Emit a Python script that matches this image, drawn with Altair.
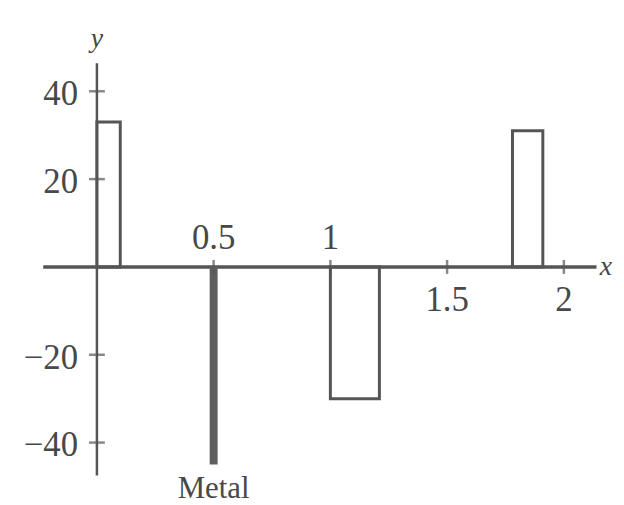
import altair as alt
import pandas as pd

# ---- data ----
bar_start = [0.0, 1.0, 1.78]
bar_end = [0.1, 1.21, 1.91]
bar_value = [33, -30, 31]

metal_x = [0.5]
metal_value = [-45]
metal_label = ["Metal"]

x_ticks = [0.5, 1.0, 1.5, 2.0]
x_tick_labels = ["0.5", "1", "1.5", "2"]
y_ticks = [40, 20, -20, -40]
y_tick_labels = ["40", "20", "\u221220", "\u221240"]

x_axis_span = [-0.23, 2.14]
y_axis_span = [-47.5, 46.4]

# ---- layout ----
W, H = 612, 496
X0, XS = 89.5, 235.0     # plot px of x=0, px per unit
Y0, YS = 259.0, 4.42     # plot px of y=0, px per unit
xdom = [-X0 / XS, (W - X0) / XS]
ydom = [(Y0 - H) / YS, Y0 / YS]
xs = alt.Scale(domain=xdom, nice=False, zero=False)
ys = alt.Scale(domain=ydom, nice=False, zero=False)

GRAY = "#555555"
TXT = "#484848"
FONT = "Liberation Serif"
FS = 35


def X(f):
    return alt.X(f, type="quantitative", scale=xs, axis=None)


def Y(f):
    return alt.Y(f, type="quantitative", scale=ys, axis=None)


bars = pd.DataFrame({"x0": bar_start, "x1": bar_end, "v": bar_value,
                     "base": [0] * len(bar_value)})
metal = pd.DataFrame({"x": metal_x, "v": metal_value, "label": metal_label,
                      "base": [0] * len(metal_x)})
xt = pd.DataFrame({"x": x_ticks, "label": x_tick_labels, "y": [0] * len(x_ticks)})
yt = pd.DataFrame({"y": y_ticks, "label": y_tick_labels, "x": [0] * len(y_ticks)})
xaxis = pd.DataFrame({"x": [x_axis_span[0]], "x2": [x_axis_span[1]], "y": [0]})
yaxis = pd.DataFrame({"y": [y_axis_span[0]], "y2": [y_axis_span[1]], "x": [0]})
names = pd.DataFrame({"x": [0.0, 2.18], "y": [52.0, 0.0], "label": ["y", "x"]})

x_line = alt.Chart(xaxis).mark_rule(color=GRAY, strokeWidth=3.5).encode(
    x=X("x"), x2="x2", y=Y("y"))
y_line = alt.Chart(yaxis).mark_rule(color=GRAY, strokeWidth=2.5).encode(
    x=X("x"), y=Y("y"), y2="y2")

x_tick_marks = alt.Chart(xt).mark_tick(
    orient="vertical", size=14, thickness=2.5, color=GRAY).encode(x=X("x"), y=Y("y"))
y_tick_marks = alt.Chart(yt).mark_tick(
    orient="horizontal", size=16, thickness=2.5, color=GRAY).encode(x=X("x"), y=Y("y"))

bar_rects = alt.Chart(bars).mark_rect(
    fillOpacity=0, stroke=GRAY, strokeWidth=3).encode(
    x=X("x0"), x2="x1", y=Y("base"), y2="v")

metal_bar = alt.Chart(metal).mark_rule(color="#5e5e5e", strokeWidth=8).encode(
    x=X("x"), y=Y("base"), y2="v")

metal_text = alt.Chart(metal).mark_text(
    font=FONT, fontSize=31, color=TXT, baseline="top", dy=10).encode(
    x=X("x"), y=Y("v"), text="label")

x_lab_above = alt.Chart(xt.iloc[:2]).mark_text(
    font=FONT, fontSize=FS, color=TXT, baseline="middle", dy=-29).encode(
    x=X("x"), y=Y("y"), text="label")
x_lab_below = alt.Chart(xt.iloc[2:]).mark_text(
    font=FONT, fontSize=FS, color=TXT, baseline="middle", dy=33).encode(
    x=X("x"), y=Y("y"), text="label")
y_lab = alt.Chart(yt).mark_text(
    font=FONT, fontSize=FS, color=TXT, baseline="middle", align="right",
    dx=-19, dy=3).encode(x=X("x"), y=Y("y"), text="label")

axis_names = alt.Chart(names).mark_text(
    font=FONT, fontSize=28, fontStyle="italic", color=TXT, baseline="middle",
    align="center").encode(x=X("x"), y=Y("y"), text="label")

chart = alt.layer(
    x_line, y_line, bar_rects, metal_bar, x_tick_marks, y_tick_marks,
    metal_text, x_lab_above, x_lab_below, y_lab, axis_names
).properties(
    width=W, height=H, padding=0,
    autosize=alt.AutoSizeParams(type="none"),
    background="white",
).configure_view(stroke=None)

chart.save("out.html", embed_options={"renderer": "svg", "actions": False})
